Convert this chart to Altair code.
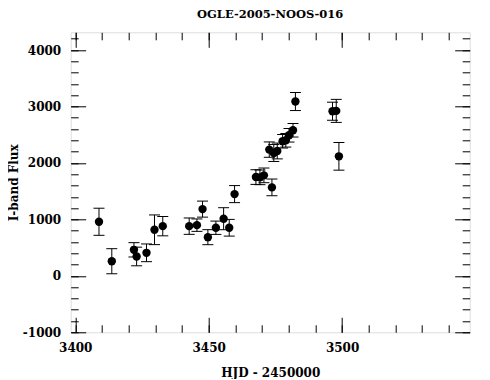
import altair as alt
import pandas as pd

# ---- data ----
hjd = [3408.9, 3413.7, 3422.0, 3423.0, 3426.7, 3429.7, 3432.8, 3442.7, 3445.6, 3447.7,
       3449.7, 3452.7, 3455.6, 3457.7, 3459.7, 3467.7, 3469.2, 3470.7, 3473.7, 3472.7,
       3474.4, 3475.7, 3477.7, 3478.9, 3480.1, 3481.6, 3482.5, 3496.4, 3497.8, 3498.8]
flux = [958, 259, 461, 343, 408, 816, 880, 880, 898, 1182,
        685, 852, 1012, 852, 1448, 1750, 1745, 1780, 1567, 2236,
        2176, 2212, 2384, 2401, 2490, 2579, 3088, 2916, 2922, 2117]
err = [240, 222, 127, 165, 157, 263, 171, 145, 110, 142,
       133, 118, 195, 148, 151, 130, 130, 130, 148, 136,
       150, 140, 120, 120, 120, 120, 160, 160, 204, 245]

x_domain = [3398.3, 3547.8]
y_domain = [-1000, 4314]
x_major = [3400, 3450, 3500]
x_minor = list(range(3400, 3550, 10))
y_major = [-1000, 0, 1000, 2000, 3000, 4000]
y_minor = list(range(-1000, 4400, 200))

title_text = "OGLE-2005-NOOS-016"
x_title = "HJD - 2450000"
y_title = "I-band Flux"

df = pd.DataFrame({"hjd": hjd, "flux": flux, "err": err})
df["lo"] = df["flux"] - df["err"]
df["hi"] = df["flux"] + df["err"]

FONT = "DejaVu Serif"
W, H = 399, 300
MAJ, MIN = 15, 7.5

xscale = alt.Scale(domain=x_domain, nice=False, zero=False)
yscale = alt.Scale(domain=y_domain, nice=False, zero=False)

common = dict(domain=False, grid=False, tickColor="black", tickWidth=1, minExtent=0)


def xax(orient, values, size, labels=False, title=None):
    kw = dict(common)
    if labels:
        kw.update(labels=True, labelFont=FONT, labelFontSize=12, labelFontWeight="bold",
                  labelColor="black", labelPadding=10, labelExpr="'' + datum.value")
    else:
        kw.update(labels=False)
    if title:
        kw.update(title=title, titleFont=FONT, titleFontSize=12, titleFontWeight="bold",
                  titleColor="black", titleX=W / 2, titleY=59.4,
                  titleBaseline="alphabetic", titleAlign="center")
    else:
        kw.update(title=None)
    return alt.Axis(orient=orient, values=values, tickSize=size, offset=-size, **kw)


def yax(orient, values, size, labels=False, title=None):
    kw = dict(common)
    if labels:
        kw.update(labels=True, labelFont=FONT, labelFontSize=12, labelFontWeight="bold",
                  labelColor="black", labelPadding=10, labelExpr="'' + datum.value")
    else:
        kw.update(labels=False)
    if title:
        kw.update(title=title, titleFont=FONT, titleFontSize=12, titleFontWeight="bold",
                  titleColor="black", titleX=-67.7, titleY=H / 2, titleAngle=270,
                  titleBaseline="alphabetic", titleAlign="center")
    else:
        kw.update(title=None)
    return alt.Axis(orient=orient, values=values, tickSize=size, offset=-size, **kw)


base = alt.Chart(df)

rules = base.mark_rule(color="black", strokeWidth=1).encode(
    x=alt.X("hjd:Q", scale=xscale, axis=xax("bottom", x_major, MAJ, labels=True, title=x_title)),
    y=alt.Y("lo:Q", scale=yscale, axis=yax("left", y_major, MAJ, labels=True, title=y_title)),
    y2="hi:Q",
)

caps_lo = base.mark_tick(orient="horizontal", size=11, thickness=1, color="black", opacity=1).encode(
    x=alt.X("hjd:Q", scale=xscale, axis=xax("top", x_major, MAJ)),
    y=alt.Y("lo:Q", scale=yscale, axis=yax("right", y_major, MAJ)),
)

caps_hi = base.mark_tick(orient="horizontal", size=11, thickness=1, color="black", opacity=1).encode(
    x=alt.X("hjd:Q", scale=xscale, axis=xax("bottom", x_minor, MIN)),
    y=alt.Y("hi:Q", scale=yscale, axis=yax("left", y_minor, MIN)),
)

points = base.mark_circle(size=70, color="black", opacity=1).encode(
    x=alt.X("hjd:Q", scale=xscale, axis=xax("top", x_minor, MIN)),
    y=alt.Y("flux:Q", scale=yscale, axis=yax("right", y_minor, MIN)),
)

chart = (
    alt.layer(rules, caps_lo, caps_hi, points)
    .resolve_axis(x="independent", y="independent")
    .properties(
        width=W,
        height=H,
        autosize=alt.AutoSizeParams(type="none"),
        padding={"left": 62.7, "top": 24.3, "right": 12, "bottom": 47},
        title=alt.TitleParams(title_text, font=FONT, fontSize=11.5, fontWeight="bold",
                              color="black", anchor="middle", frame="group",
                              baseline="alphabetic", offset=1.9),
    )
    .configure_view(stroke="black", strokeWidth=1)
    .configure(background="white")
)

chart.save("out.html", embed_options={"renderer": "svg", "actions": False})
